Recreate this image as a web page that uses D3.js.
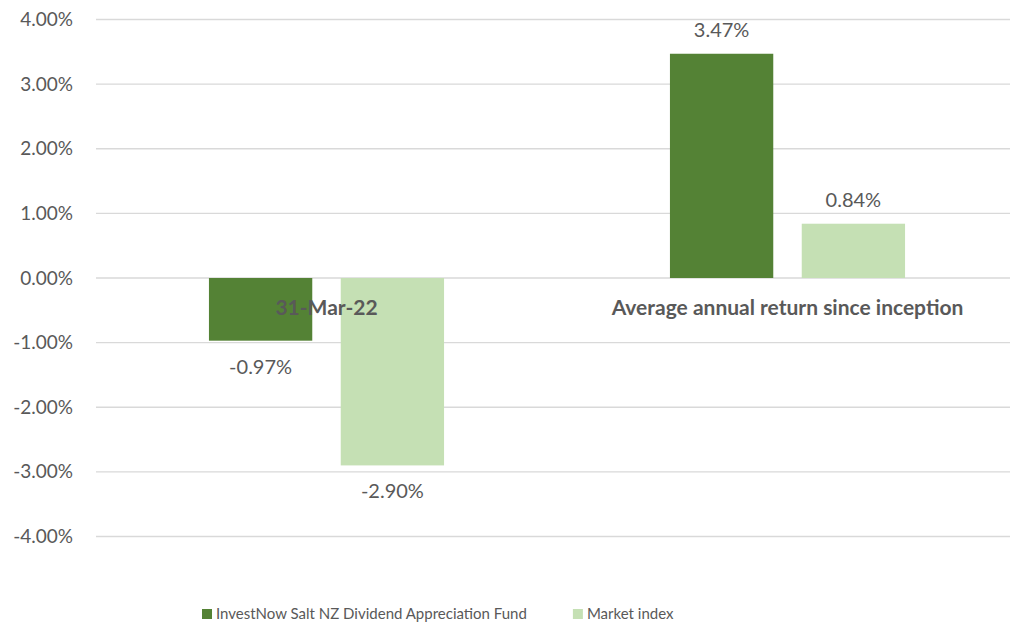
<!DOCTYPE html>
<html>
<head>
<meta charset="utf-8">
<script src="https://cdn.jsdelivr.net/npm/d3@7"></script>
<style>
  body { margin: 0; background: #fff; }
  text { font-family: Lato, sans-serif; fill: #595959; }
</style>
</head>
<body>
<svg id="chart" width="1010" height="625"></svg>
<script>
let categories = ["31-Mar-22", "Average annual return since inception"]
let seriesNames = ["InvestNow Salt NZ Dividend Appreciation Fund", "Market index"]
let fundValues = [-0.97, 3.47]
let indexValues = [-2.90, 0.84]
let yTicks = [4, 3, 2, 1, 0, -1, -2, -3, -4]

let colors = ["#548235", "#c5e0b4"]

// hyphen-minus like the original, not the unicode minus
let pct = function(d) { return d3.format(".2f")(d).replace("\u2212", "-") + "%" }

let svg = d3.select("#chart")

let margin = {left: 96, right: -8, top: 19.5, bottom: 88.5}
let width = 1010 - margin.left - margin.right
let height = 625 - margin.top - margin.bottom

let g = svg.append("g")
    .attr("transform", `translate(${margin.left}, ${margin.top})`)

let y = d3.scaleLinear()
    .domain([-4, 4])
    .range([height, 0])

let x0 = d3.scaleBand()
    .domain(categories)
    .range([0, width])
    .paddingInner(0.49)
    .paddingOuter(0.245)

let x1 = d3.scaleBand()
    .domain([0, 1])
    .range([0, x0.bandwidth()])
    .paddingInner(0.216)

// gridlines
g.selectAll(".grid")
    .data(yTicks)
    .join("line")
    .attr("x1", 0)
    .attr("x2", width)
    .attr("y1", d => y(d))
    .attr("y2", d => y(d))
    .style("stroke", "#d9d9d9")
    .style("stroke-width", "1.3px")

// y axis labels
let yAxis = g.append("g")
    .call(d3.axisLeft(y).tickValues(yTicks).tickSize(0).tickPadding(23).tickFormat(pct))
yAxis.select(".domain").remove()
yAxis.selectAll("text")
    .style("font-family", "Lato, sans-serif")
    .style("font-size", "19px")
    .style("fill", "#595959")

let rows = categories.map((c, i) => ({cat: c, vals: [fundValues[i], indexValues[i]]}))

let groups = g.selectAll(".grp")
    .data(rows)
    .join("g")
    .attr("transform", d => `translate(${x0(d.cat)}, 0)`)

groups.selectAll("rect")
    .data(d => d.vals.map((v, k) => ({k: k, v: v})))
    .join("rect")
    .attr("x", d => x1(d.k))
    .attr("width", x1.bandwidth())
    .attr("y", d => y(Math.max(0, d.v)))
    .attr("height", d => Math.abs(y(d.v) - y(0)))
    .style("fill", d => colors[d.k])

// category labels just below the zero line
g.selectAll(".cat")
    .data(categories)
    .join("text")
    .attr("x", d => x0(d) + x0.bandwidth() / 2)
    .attr("y", y(0) + 37)
    .attr("text-anchor", "middle")
    .style("font-size", "21px")
    .style("font-weight", "bold")
    .text(d => d)

// value labels
groups.selectAll(".val")
    .data(d => d.vals.map((v, k) => ({k: k, v: v})))
    .join("text")
    .attr("x", d => x1(d.k) + x1.bandwidth() / 2)
    .attr("y", d => d.v >= 0 ? y(d.v) - 17 : y(d.v) + 33)
    .attr("text-anchor", "middle")
    .style("font-size", "20px")
    .text(d => pct(d.v))

// legend
let legend = svg.append("g")
    .attr("transform", "translate(202, 614)")

let items = legend.selectAll(".leg")
    .data(seriesNames)
    .join("g")

items.append("rect")
    .attr("x", 0)
    .attr("y", -5)
    .attr("width", 10)
    .attr("height", 10)
    .style("fill", (d, i) => colors[i])

items.append("text")
    .attr("x", 14)
    .attr("y", 0)
    .attr("dy", "0.35em")
    .style("font-size", "15px")
    .text(d => d)

let offset = 0
items.each(function(d, i) {
    let w = d3.select(this).select("text").node().getComputedTextLength()
    d3.select(this).attr("transform", `translate(${offset}, 0)`)
    offset += 14 + w + 46
})
</script>
</body>
</html>
